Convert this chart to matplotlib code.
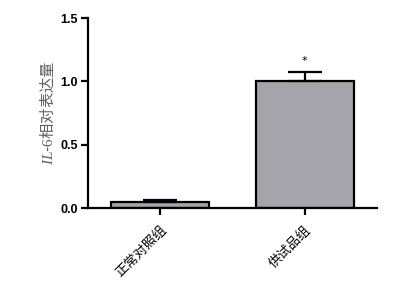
import matplotlib
matplotlib.use("Agg")
import matplotlib.pyplot as plt
import numpy as np

categories = ["正常对照组", "供试品组"]
values = [0.045, 1.0]
errors = [0.015, 0.073]
yticks = [0.0, 0.5, 1.0, 1.5]
ytick_labels = ["0.0", "0.5", "1.0", "1.5"]
sig_marks = ["", "*"]

plt.rcParams['mathtext.fontset'] = 'custom'
plt.rcParams['mathtext.it'] = 'Liberation Serif:italic'
plt.rcParams['mathtext.rm'] = 'Liberation Serif'

fig = plt.figure(figsize=(4.09, 2.91), dpi=100)
ax = fig.add_axes([0.215, 0.285, 0.707, 0.653])

x = np.arange(len(categories))
ax.bar(x, values, width=0.68, color='#a4a4aa', edgecolor='black', linewidth=1.6, zorder=2)
ax.errorbar(x, values, yerr=[np.zeros(len(values)), errors], fmt='none',
            ecolor='black', elinewidth=1.6, capsize=12, capthick=1.6, zorder=3)
for xi, v, e, m in zip(x, values, errors, sig_marks):
    if m:
        ax.text(xi, v + e + 0.09, m, ha='center', va='center', fontsize=8, color='black')

ax.set_xlim(-0.5, 1.5)
ax.set_ylim(0, 1.5)
ax.set_yticks(yticks)
ax.set_yticklabels(ytick_labels, fontsize=9, fontweight='bold', family='Liberation Sans')
ax.set_xticks(x)
ax.set_xticklabels(categories, rotation=45, ha='right', rotation_mode='anchor',
                   fontsize=9.5, family=['Noto Sans CJK SC', 'DejaVu Sans'])
ax.tick_params(axis='both', direction='out', length=5, width=1.6, pad=2)
ax.tick_params(axis='x', pad=6)
for s in ['top', 'right']:
    ax.spines[s].set_visible(False)
for s in ['left', 'bottom']:
    ax.spines[s].set_linewidth(1.6)

ax.set_ylabel(r'$\mathit{IL}$-$\mathit{6}$相对表达量', fontsize=11, color='#606060',
              family=['Noto Sans CJK SC', 'DejaVu Sans'], labelpad=3)

fig.savefig('out.png', dpi=100)
